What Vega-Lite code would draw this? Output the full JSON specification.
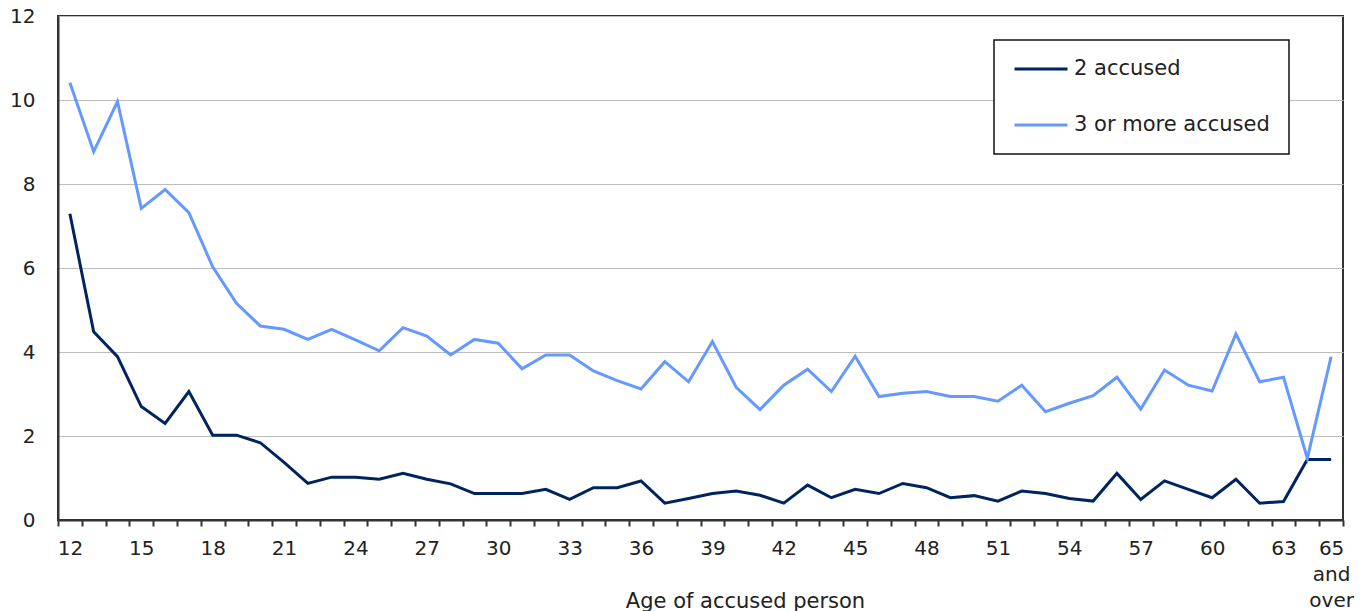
{
  "$schema": "https://vega.github.io/schema/vega-lite/v6.json",
  "width": 1285,
  "height": 504,
  "autosize": {"type": "none"},
  "padding": {"left": 58, "top": 16, "right": 23, "bottom": 91},
  "background": "white",
  "config": {
    "view": {"stroke": "#333333", "strokeWidth": 2},
    "font": "DejaVu Sans"
  },
  "data": {
    "values": [
      {"age": "12", "series": "2 accused", "value": 7.29},
      {"age": "13", "series": "2 accused", "value": 4.48},
      {"age": "14", "series": "2 accused", "value": 3.89},
      {"age": "15", "series": "2 accused", "value": 2.70},
      {"age": "16", "series": "2 accused", "value": 2.30},
      {"age": "17", "series": "2 accused", "value": 3.06},
      {"age": "18", "series": "2 accused", "value": 2.02},
      {"age": "19", "series": "2 accused", "value": 2.02},
      {"age": "20", "series": "2 accused", "value": 1.84},
      {"age": "21", "series": "2 accused", "value": 1.37},
      {"age": "22", "series": "2 accused", "value": 0.87},
      {"age": "23", "series": "2 accused", "value": 1.02},
      {"age": "24", "series": "2 accused", "value": 1.02},
      {"age": "25", "series": "2 accused", "value": 0.97},
      {"age": "26", "series": "2 accused", "value": 1.11},
      {"age": "27", "series": "2 accused", "value": 0.97},
      {"age": "28", "series": "2 accused", "value": 0.86},
      {"age": "29", "series": "2 accused", "value": 0.63},
      {"age": "30", "series": "2 accused", "value": 0.63},
      {"age": "31", "series": "2 accused", "value": 0.63},
      {"age": "32", "series": "2 accused", "value": 0.73},
      {"age": "33", "series": "2 accused", "value": 0.49},
      {"age": "34", "series": "2 accused", "value": 0.77},
      {"age": "35", "series": "2 accused", "value": 0.77},
      {"age": "36", "series": "2 accused", "value": 0.93},
      {"age": "37", "series": "2 accused", "value": 0.40},
      {"age": "38", "series": "2 accused", "value": 0.51},
      {"age": "39", "series": "2 accused", "value": 0.63},
      {"age": "40", "series": "2 accused", "value": 0.69},
      {"age": "41", "series": "2 accused", "value": 0.59},
      {"age": "42", "series": "2 accused", "value": 0.40},
      {"age": "43", "series": "2 accused", "value": 0.83},
      {"age": "44", "series": "2 accused", "value": 0.53},
      {"age": "45", "series": "2 accused", "value": 0.73},
      {"age": "46", "series": "2 accused", "value": 0.63},
      {"age": "47", "series": "2 accused", "value": 0.87},
      {"age": "48", "series": "2 accused", "value": 0.77},
      {"age": "49", "series": "2 accused", "value": 0.53},
      {"age": "50", "series": "2 accused", "value": 0.58},
      {"age": "51", "series": "2 accused", "value": 0.45},
      {"age": "52", "series": "2 accused", "value": 0.69},
      {"age": "53", "series": "2 accused", "value": 0.63},
      {"age": "54", "series": "2 accused", "value": 0.51},
      {"age": "55", "series": "2 accused", "value": 0.45},
      {"age": "56", "series": "2 accused", "value": 1.11},
      {"age": "57", "series": "2 accused", "value": 0.49},
      {"age": "58", "series": "2 accused", "value": 0.93},
      {"age": "59", "series": "2 accused", "value": 0.73},
      {"age": "60", "series": "2 accused", "value": 0.53},
      {"age": "61", "series": "2 accused", "value": 0.97},
      {"age": "62", "series": "2 accused", "value": 0.40},
      {"age": "63", "series": "2 accused", "value": 0.44},
      {"age": "64", "series": "2 accused", "value": 1.44},
      {"age": "65 and over", "series": "2 accused", "value": 1.44},
      {"age": "12", "series": "3 or more accused", "value": 10.41},
      {"age": "13", "series": "3 or more accused", "value": 8.77},
      {"age": "14", "series": "3 or more accused", "value": 9.96},
      {"age": "15", "series": "3 or more accused", "value": 7.42},
      {"age": "16", "series": "3 or more accused", "value": 7.87},
      {"age": "17", "series": "3 or more accused", "value": 7.32},
      {"age": "18", "series": "3 or more accused", "value": 6.03},
      {"age": "19", "series": "3 or more accused", "value": 5.16},
      {"age": "20", "series": "3 or more accused", "value": 4.62},
      {"age": "21", "series": "3 or more accused", "value": 4.54},
      {"age": "22", "series": "3 or more accused", "value": 4.30},
      {"age": "23", "series": "3 or more accused", "value": 4.54},
      {"age": "24", "series": "3 or more accused", "value": 4.29},
      {"age": "25", "series": "3 or more accused", "value": 4.03},
      {"age": "26", "series": "3 or more accused", "value": 4.58},
      {"age": "27", "series": "3 or more accused", "value": 4.38},
      {"age": "28", "series": "3 or more accused", "value": 3.93},
      {"age": "29", "series": "3 or more accused", "value": 4.30},
      {"age": "30", "series": "3 or more accused", "value": 4.21},
      {"age": "31", "series": "3 or more accused", "value": 3.60},
      {"age": "32", "series": "3 or more accused", "value": 3.93},
      {"age": "33", "series": "3 or more accused", "value": 3.93},
      {"age": "34", "series": "3 or more accused", "value": 3.55},
      {"age": "35", "series": "3 or more accused", "value": 3.32},
      {"age": "36", "series": "3 or more accused", "value": 3.12},
      {"age": "37", "series": "3 or more accused", "value": 3.77},
      {"age": "38", "series": "3 or more accused", "value": 3.29},
      {"age": "39", "series": "3 or more accused", "value": 4.25},
      {"age": "40", "series": "3 or more accused", "value": 3.16},
      {"age": "41", "series": "3 or more accused", "value": 2.63},
      {"age": "42", "series": "3 or more accused", "value": 3.21},
      {"age": "43", "series": "3 or more accused", "value": 3.59},
      {"age": "44", "series": "3 or more accused", "value": 3.06},
      {"age": "45", "series": "3 or more accused", "value": 3.90},
      {"age": "46", "series": "3 or more accused", "value": 2.94},
      {"age": "47", "series": "3 or more accused", "value": 3.02},
      {"age": "48", "series": "3 or more accused", "value": 3.06},
      {"age": "49", "series": "3 or more accused", "value": 2.94},
      {"age": "50", "series": "3 or more accused", "value": 2.94},
      {"age": "51", "series": "3 or more accused", "value": 2.83},
      {"age": "52", "series": "3 or more accused", "value": 3.21},
      {"age": "53", "series": "3 or more accused", "value": 2.58},
      {"age": "54", "series": "3 or more accused", "value": 2.78},
      {"age": "55", "series": "3 or more accused", "value": 2.96},
      {"age": "56", "series": "3 or more accused", "value": 3.40},
      {"age": "57", "series": "3 or more accused", "value": 2.64},
      {"age": "58", "series": "3 or more accused", "value": 3.57},
      {"age": "59", "series": "3 or more accused", "value": 3.21},
      {"age": "60", "series": "3 or more accused", "value": 3.07},
      {"age": "61", "series": "3 or more accused", "value": 4.43},
      {"age": "62", "series": "3 or more accused", "value": 3.29},
      {"age": "63", "series": "3 or more accused", "value": 3.40},
      {"age": "64", "series": "3 or more accused", "value": 1.47},
      {"age": "65 and over", "series": "3 or more accused", "value": 3.89}
    ]
  },
  "mark": {"type": "line", "strokeWidth": 3, "strokeJoin": "miter"},
  "encoding": {
    "x": {
      "field": "age",
      "type": "nominal",
      "sort": null,
      "bandPosition": 0.5,
      "scale": {"type": "band", "paddingInner": 0, "paddingOuter": 0},
      "axis": {
        "title": "Age of accused person",
        "titleFont": "DejaVu Sans",
        "titleFontSize": 21,
        "titleFontWeight": "normal",
        "titleColor": "#222222",
        "titleBaseline": "alphabetic",
        "titleAlign": "center",
        "titleAnchor": null,
        "titleX": 687,
        "titleY": 87,
        "domain": true,
        "domainColor": "#333333",
        "domainWidth": 2,
        "ticks": true,
        "tickBand": "extent",
        "tickSize": 6,
        "tickColor": "#333333",
        "tickWidth": 2,
        "grid": false,
        "labelAngle": 0,
        "labelOverlap": false,
        "labelFont": "DejaVu Sans",
        "labelFontSize": 20,
        "labelColor": "#222222",
        "labelPadding": 12,
        "labelLineHeight": 26,
        "labelExpr": "datum.value == '65 and over' ? ['65', 'and', 'over'] : (toNumber(datum.value) % 3 == 0 ? datum.label : '')"
      }
    },
    "y": {
      "field": "value",
      "type": "quantitative",
      "scale": {"domain": [0, 12], "nice": false},
      "axis": {
        "title": null,
        "values": [0, 2, 4, 6, 8, 10, 12],
        "domain": true,
        "domainColor": "#333333",
        "domainWidth": 2,
        "ticks": false,
        "grid": true,
        "gridColor": "#bdbdbd",
        "gridWidth": 1,
        "labelFont": "DejaVu Sans",
        "labelFontSize": 20,
        "labelColor": "#222222",
        "labelPadding": 23
      }
    },
    "color": {
      "field": "series",
      "type": "nominal",
      "scale": {"domain": ["2 accused", "3 or more accused"], "range": ["#00245e", "#6699ff"]},
      "legend": {
        "title": null,
        "orient": "none",
        "legendX": 936,
        "legendY": 24,
        "direction": "vertical",
        "fillColor": "white",
        "strokeColor": "#111111",
        "padding": 19,
        "rowPadding": 35,
        "clipHeight": 20,
        "symbolType": "stroke",
        "symbolSize": 2809,
        "symbolStrokeWidth": 3,
        "labelFont": "DejaVu Sans",
        "labelFontSize": 21,
        "labelColor": "#222222",
        "labelOffset": 5,
        "labelLimit": 400,
        "encode": {"legend": {"update": {"strokeWidth": {"value": 1.5}}}}
      }
    }
  }
}
